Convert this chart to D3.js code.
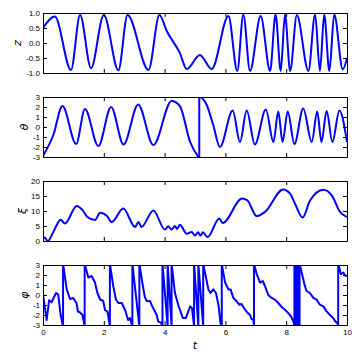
<!DOCTYPE html>
<html>
<head>
<meta charset="utf-8">
<script src="https://d3js.org/d3.v7.min.js"></script>
<style>
    body { margin: 0; background: #fff; }
    .tick text { font-family: "Liberation Sans", Arial, sans-serif; font-size: 8px; fill: #000; }
    .tick line { stroke: #000; }
    .domain { stroke: #000; }
    .ylabel, .xlabel { font-family: "DejaVu Sans", sans-serif; font-style: italic; font-size: 11px; }
</style>
</head>
<body>
<svg width="360" height="360"></svg>
<script>
// z(t)
const zT = [0, 0.39, 0.92, 1.22, 1.58, 2.0, 2.48, 2.78, 3.47, 3.83, 4.07, 4.5, 4.73, 5.16, 5.55, 6.1, 6.39, 6.59, 6.81, 7.16, 7.47, 7.65, 7.82, 7.96, 8.13, 8.35, 8.73, 8.95, 9.11, 9.25, 9.42, 9.58, 9.86, 10];
const zV = [0.5, 0.88, -0.9, 0.93, -0.84, 0.93, -0.91, 0.93, -0.9, 0.93, 0.4, -0.33, -0.87, -0.4, -0.87, 0.9, -0.93, 0.95, -0.93, 0.9, -0.93, 0.95, -0.93, 0.95, -0.93, 0.93, -0.93, 0.95, -0.93, 0.95, -0.93, 0.95, -0.88, -0.51];

// theta(t), jumps where t repeats
const thetaT = [0, 0.34, 0.64, 1.09, 1.38, 1.82, 2.24, 2.65, 3.13, 3.63, 4.23, 4.5, 4.84, 5.14,
    5.14, 5.38, 5.6, 5.82, 6.24, 6.48, 6.7, 6.97, 7.33, 7.58, 7.74, 7.88, 8.05, 8.27, 8.56, 8.84, 9.02, 9.16, 9.33, 9.52, 9.75, 10];
const thetaV = [-2.9, -0.8, 2.1, -1.7, 1.8, -1.9, 2.0, -1.75, 2.25, -1.8, 2.6, 2.1, -1.5, -3.14,
    3.14, 2.25, 0.2, -2.0, 1.65, -1.5, 1.65, -1.75, 1.75, -1.5, 1.55, -1.5, 1.55, -1.7, 1.85, -1.5, 1.55, -1.5, 1.6, -1.5, 1.65, -1.5];

// xi(t)
const xiT = [0, 0.05, 0.16, 0.34, 0.58, 0.72, 1.11, 1.3, 1.46, 1.71, 1.88, 2.1, 2.26, 2.64, 3.03, 3.14, 3.24, 3.63, 4.01, 4.12, 4.23, 4.34, 4.41, 4.5, 4.73, 4.89, 5.0, 5.1, 5.18, 5.26, 5.41, 5.8, 5.91, 6.55, 6.72, 7.03, 7.3, 7.9, 8.13, 8.29, 8.54, 8.78, 9.22, 9.5, 9.77, 10];
const xiV = [0.5, 1.2, 0, 3, 7.1, 5.8, 11.7, 10.3, 8, 7, 9.4, 8.4, 6.3, 10.8, 4.7, 6.3, 4.7, 10.2, 3.8, 4.9, 3.8, 5.0, 4.0, 5.4, 2.4, 3.0, 1.8, 2.9, 1.8, 2.9, 1.3, 7.5, 6.0, 14.2, 13.6, 8.3, 9.7, 17.2, 15.8, 12.4, 7.8, 13.4, 17.1, 15.2, 9.7, 8];

// phi(t), wrapped to [-pi, pi]
const phiT = [0, 0.12, 0.2, 0.28, 0.43, 0.5, 0.58, 0.66, 0.66, 0.78, 0.89, 0.99, 1.1, 1.15, 1.22, 1.3, 1.35, 1.37, 1.37, 1.49, 1.6, 1.71, 1.79, 1.88, 1.98, 2.04, 2.12, 2.2, 2.2, 2.31, 2.4, 2.48, 2.59, 2.7, 2.8, 2.86, 2.94, 2.94, 3.17, 3.17, 3.28, 3.35, 3.41, 3.52, 3.57, 3.74, 3.79, 3.88, 3.93, 3.93, 4.1, 4.1, 4.23, 4.23, 4.34, 4.45, 4.6, 4.7, 4.84, 4.9, 4.97, 4.97, 5.11, 5.11, 5.27, 5.27, 5.44, 5.51, 5.6, 5.69, 5.77, 5.84, 5.88, 5.88, 5.99, 6.1, 6.17, 6.26, 6.37, 6.46, 6.53, 6.61, 6.72, 6.81, 6.86, 6.92, 6.94, 6.94, 7.03, 7.14, 7.23, 7.3, 7.41, 7.52, 7.63, 7.74, 7.85, 7.96, 8.07, 8.16, 8.24, 8.27, 8.27, 8.32, 8.32, 8.38, 8.38, 8.44, 8.44, 8.51, 8.6, 8.67, 8.78, 8.89, 9.0, 9.11, 9.22, 9.33, 9.44, 9.55, 9.62, 9.69, 9.71, 9.71, 9.8, 9.88, 9.93, 10];
const phiV = [0.05, -2.5, -0.53, -0.73, 0.2, 0.05, -2.0, -3.14, 3.14, 0.56, -0.4, -0.3, -0.8, -1.65, -1.75, -2.0, -2.8, -3.14, 3.14, 1.75, 1.9, 1.25, 0.2, -0.45, -0.6, -1.5, -1.65, -3.14, 3.14, 0.9, -0.45, -0.8, -0.8, -1.5, -2.5, -2.3, -3.14, 3.14, -3.14, 3.14, 1.0, -0.2, -0.6, -0.6, -0.97, -2.0, -2.66, -2.76, -3.14, 3.14, -3.14, 3.14, -3.14, 3.14, 0.2, -1.0, -2.3, -2.3, -1.14, -1.3, -3.14, 3.14, -3.14, 3.14, -3.14, 3.14, 0.56, 0.2, 0.56, 0.2, -0.97, -2.83, -3.14, 3.14, 1.24, 0.56, 0.56, -0.29, -0.63, -0.97, -0.9, -1.3, -1.75, -2.0, -2.42, -2.42, -3.14, 3.14, 2.08, 1.24, 1.4, 0.9, 0.0, -0.29, -0.46, -0.8, -1.2, -1.47, -1.81, -2.15, -2.66, -3.14, 3.14, -3.14, 3.14, -3.14, 3.14, -3.14, 3.14, 2.25, 1.07, 0.4, 0.2, -0.29, -0.46, -0.97, -1.14, -1.64, -2.0, -2.32, -2.66, -2.83, -3.14, 3.14, 2.08, 2.25, 1.98, 1.9];

const xTicks = [0, 2, 4, 6, 8, 10];
const xTickLabels = ['0', '2', '4', '6', '8', '10'];

const panels = [
    { t: zT, v: zV, domain: [-1, 1], ticks: [-1, -0.5, 0, 0.5, 1], labels: ['-1.0', '-0.5', '0.0', '0.5', '1.0'], name: 'z', curve: d3.curveMonotoneX },
    { t: thetaT, v: thetaV, domain: [-3, 3], ticks: [-3, -2, -1, 0, 1, 2, 3], labels: ['-3', '-2', '-1', '0', '1', '2', '3'], name: 'θ', curve: d3.curveMonotoneX },
    { t: xiT, v: xiV, domain: [0, 20], ticks: [0, 5, 10, 15, 20], labels: ['0', '5', '10', '15', '20'], name: 'ξ', curve: d3.curveMonotoneX },
    { t: phiT, v: phiV, domain: [-3, 3], ticks: [-3, -2, -1, 0, 1, 2, 3], labels: ['-3', '-2', '-1', '0', '1', '2', '3'], name: 'φ', curve: d3.curveLinear }
];

const svg = d3.select('svg');
const left = 43, plotW = 304, plotH = 60;
const tops = [13, 97, 181, 265];

const x = d3.scaleLinear().domain([0, 10]).range([0, plotW]);

panels.forEach((p, i) => {
    const g = svg.append('g').attr('transform', `translate(${left},${tops[i]})`);
    const y = d3.scaleLinear().domain(p.domain).range([plotH, 0]);

    g.append('clipPath').attr('id', 'clip' + i)
        .append('rect').attr('width', plotW).attr('height', plotH);

    // split into segments where t repeats (phase jumps)
    const pts = p.t.map((t, k) => [t, p.v[k]]);
    let segs = [[]];
    pts.forEach((d, k) => {
        if (k > 0 && d[0] === pts[k - 1][0] && p.curve !== d3.curveLinear) {
            segs.push([]);
        }
        segs[segs.length - 1].push(d);
    });

    const line = d3.line()
        .x(d => x(d[0]))
        .y(d => y(d[1]))
        .curve(p.curve);

    // vertical joins for the smooth panels
    const joins = [];
    segs.forEach((s, k) => { if (k > 0) joins.push([segs[k - 1][segs[k - 1].length - 1], s[0]]); });

    const lines = g.append('g').attr('clip-path', `url(#clip${i})`);
    segs.concat(joins).forEach(s => {
        lines.append('path')
            .attr('fill', 'none')
            .attr('stroke', '#0000ff')
            .attr('stroke-width', 2)
            .attr('stroke-linejoin', 'round')
            .attr('d', d3.line().x(d => x(d[0])).y(d => y(d[1])).curve(s.length > 2 ? p.curve : d3.curveLinear)(s));
    });

    const yAxisG = g.append('g')
        .call(d3.axisLeft(y).tickValues(p.ticks).tickFormat((d, k) => p.labels[k])
            .tickSize(-4).tickSizeOuter(0).tickPadding(3));
    g.append('g').attr('transform', `translate(${plotW},0)`)
        .call(d3.axisRight(y).tickValues(p.ticks).tickFormat('').tickSize(-4).tickSizeOuter(0));
    g.append('g')
        .call(d3.axisTop(x).tickValues(xTicks).tickFormat('').tickSize(-4).tickSizeOuter(0));
    g.append('g').attr('transform', `translate(0,${plotH})`)
        .call(d3.axisBottom(x).tickValues(xTicks)
            .tickFormat((d, k) => i === 3 ? xTickLabels[k] : '')
            .tickSize(-4).tickSizeOuter(0).tickPadding(4));

    const bb = yAxisG.node().getBBox();
    g.append('text')
        .attr('class', 'ylabel')
        .attr('transform', `translate(${bb.x - 5},${plotH / 2}) rotate(-90)`)
        .attr('text-anchor', 'middle')
        .text(p.name);
});

svg.append('text')
    .attr('class', 'xlabel')
    .attr('x', left + plotW / 2)
    .attr('y', 349)
    .attr('text-anchor', 'middle')
    .text('t');
</script>
</body>
</html>
